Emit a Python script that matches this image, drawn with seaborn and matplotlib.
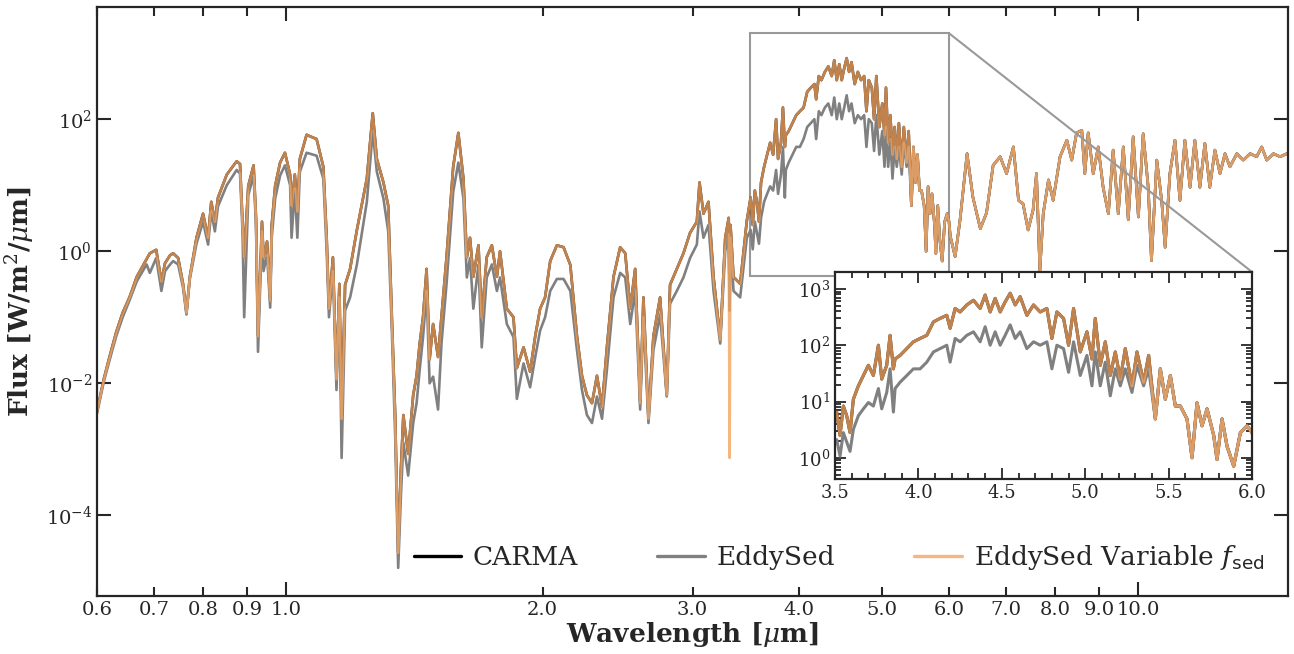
import numpy as np
import matplotlib
matplotlib.use("Agg")
import matplotlib.pyplot as plt
import seaborn as sns
from matplotlib.ticker import LogLocator, FormatStrFormatter, NullLocator, MultipleLocator
from mpl_toolkits.axes_grid1.inset_locator import mark_inset

# ================= data =================
# 0.6 - 6.0 um : the models differ here
wave_nir = [
    0.600, 0.611, 0.621, 0.632, 0.643, 0.655, 0.668, 0.686, 0.692, 0.704,
    0.714, 0.721, 0.731, 0.737, 0.747, 0.757, 0.764, 0.771, 0.785, 0.799,
    0.810, 0.817, 0.825, 0.832, 0.852, 0.875, 0.883, 0.889, 0.893, 0.903,
    0.916, 0.922, 0.927, 0.937, 0.941, 0.950, 0.958, 0.962, 0.971, 0.984,
    0.997, 1.011, 1.015, 1.024, 1.031, 1.038, 1.057, 1.086, 1.106, 1.116,
    1.123, 1.135, 1.146, 1.155, 1.162, 1.173, 1.189, 1.211, 1.244, 1.264,
    1.278, 1.301, 1.318, 1.331, 1.343, 1.354, 1.364, 1.373, 1.391, 1.410,
    1.423, 1.435, 1.448, 1.462, 1.474, 1.488, 1.508, 1.522, 1.543, 1.571,
    1.593, 1.615, 1.630, 1.644, 1.659, 1.682, 1.697, 1.720, 1.744, 1.768,
    1.783, 1.816, 1.849, 1.866, 1.900, 1.934, 1.961, 1.987, 2.014, 2.042,
    2.079, 2.117, 2.156, 2.195, 2.225, 2.255, 2.286, 2.317, 2.349, 2.380,
    2.423, 2.467, 2.501, 2.535, 2.569, 2.604, 2.627, 2.663, 2.699, 2.748,
    2.798, 2.823, 2.875, 2.927, 2.980, 3.035, 3.057, 3.090, 3.132, 3.175,
    3.233, 3.277, 3.308, 3.316, 3.324, 3.351, 3.412, 3.474,
    3.51, 3.53, 3.55, 3.57, 3.59, 3.61, 3.64, 3.67, 3.70, 3.73,
    3.76, 3.78, 3.81, 3.83, 3.85, 3.86, 3.89, 3.93, 3.97, 4.01,
    4.05, 4.09, 4.13, 4.17, 4.19, 4.22, 4.25, 4.29, 4.33, 4.37,
    4.40, 4.43, 4.46, 4.49, 4.52, 4.55, 4.58, 4.61, 4.65, 4.69,
    4.73, 4.77, 4.80, 4.83, 4.87, 4.90, 4.93, 4.97, 5.01, 5.04,
    5.06, 5.09, 5.12, 5.15, 5.18, 5.21, 5.24, 5.28, 5.31, 5.35,
    5.38, 5.42, 5.45, 5.48, 5.51, 5.54, 5.57, 5.61, 5.64, 5.67,
    5.70, 5.73, 5.77, 5.79, 5.82, 5.85, 5.89, 5.93, 5.97, 6.00,
]
carma_nir = [
    3.8e-3, 0.0115, 0.026, 0.060, 0.117, 0.20, 0.41, 0.76, 0.93, 1.05,
    0.35, 0.66, 0.87, 0.93, 0.79, 0.32, 0.117, 0.41, 1.6, 3.7,
    1.6, 5.6, 2.8, 6.5, 14.5, 23, 21, 2.8, 0.81, 9.8,
    20, 3.2, 0.052, 2.8, 0.81, 1.4, 0.18, 2.5, 9.8, 22,
    31, 14.5, 4.9, 14.5, 4.0, 25, 58, 50, 19, 1.6,
    0.135, 0.81, 0.0115, 0.32, 2.9e-3, 0.31, 0.54, 2.1, 12.6, 123,
    25, 11, 4.9, 0.10, 3.3e-3, 2.7e-5, 5.0e-4, 3.3e-3, 8.5e-4, 6.6e-3,
    0.013, 0.040, 0.10, 0.54, 0.023, 0.079, 0.025, 0.10, 0.81, 19,
    62, 12.6, 0.81, 1.6, 0.41, 1.23, 0.10, 0.81, 1.23, 0.41,
    1.0, 0.135, 0.10, 0.017, 0.035, 0.015, 0.052, 0.135, 0.20, 0.71,
    1.23, 1.15, 0.62, 0.052, 0.013, 6.6e-3, 5.0e-3, 0.013, 4.4e-3, 0.035,
    0.41, 1.15, 0.93, 0.135, 0.54, 5.0e-3, 0.20, 2.9e-3, 0.052, 0.20,
    6.6e-3, 0.31, 0.54, 0.93, 1.9, 2.8, 11, 3.7, 5.6, 0.41,
    0.046, 1.6, 3.2, 0.16, 2.5, 0.41, 0.32, 2.9,
    6.5, 2.5, 8.3, 5.6, 2.8, 11, 19, 29, 44, 29,
    100, 25, 44, 150, 38, 57, 66, 87, 115, 132,
    150, 260, 300, 340, 200, 450, 390, 520, 630, 450,
    780, 390, 680, 390, 590, 840, 520, 730, 340, 520,
    390, 450, 132, 390, 300, 100, 450, 76, 173, 57,
    300, 44, 115, 29, 76, 25, 87, 19, 76, 22,
    66, 4.9, 38, 11, 29, 8.3, 8.3, 4.9, 1.0, 9.5,
    3.7, 7.4, 2.5, 0.93, 4.9, 1.6, 0.71, 2.8, 3.7, 2.8,
]
eddysed_nir = [
    3.5e-3, 0.0105, 0.023, 0.052, 0.10, 0.18, 0.35, 0.63, 0.47, 0.79,
    0.25, 0.50, 0.63, 0.71, 0.63, 0.28, 0.11, 0.38, 1.3, 2.8,
    1.26, 4.0, 2.0, 4.8, 10, 17, 15, 2.0, 0.10, 7.1,
    14, 2.5, 0.030, 2.0, 0.50, 0.89, 0.14, 1.6, 6.3, 14,
    20, 10, 1.6, 8.9, 1.6, 16, 31, 28, 12.6, 1.0,
    0.10, 0.50, 7.9e-3, 0.20, 7.4e-4, 0.126, 0.20, 0.63, 5.6, 66,
    16, 6.3, 2.0, 0.063, 1.6e-3, 1.6e-5, 2.0e-4, 1.26e-3, 4.0e-4, 2.5e-3,
    5.0e-3, 0.016, 0.05, 0.25, 0.01, 0.0126, 4.0e-3, 0.04, 0.32, 7.9,
    22, 6.3, 0.40, 0.79, 0.135, 0.63, 0.035, 0.40, 0.63, 0.25,
    0.40, 0.079, 0.05, 5.8e-3, 0.02, 8.7e-3, 0.025, 0.063, 0.10, 0.25,
    0.38, 0.38, 0.25, 0.032, 7.9e-3, 3.3e-3, 2.5e-3, 6.3e-3, 2.9e-3, 0.016,
    0.20, 0.47, 0.40, 0.079, 0.25, 4.0e-3, 0.10, 2.5e-3, 0.032, 0.11,
    6.3e-3, 0.16, 0.25, 0.40, 0.79, 1.26, 4.0, 1.6, 2.5, 0.25,
    0.04, 1.0, 1.8, 0.126, 1.6, 0.25, 0.20, 1.6,
    2.1, 1.07, 2.8, 1.9, 1.3, 3.2, 5.6, 7.4, 9.6, 8.3,
    17, 7.4, 14.5, 38, 6.5, 17, 22, 29, 38, 38,
    50, 76, 87, 100, 50, 132, 115, 150, 173, 115,
    213, 100, 173, 100, 150, 230, 132, 173, 87, 115,
    100, 115, 38, 100, 87, 33, 115, 29, 66, 19,
    76, 19, 50, 12.6, 38, 19, 38, 14.5, 44, 19,
    38, 4.9, 38, 11, 29, 8.3, 8.3, 4.9, 1.0, 9.5,
    3.7, 7.4, 2.5, 0.93, 4.9, 1.6, 0.71, 2.8, 3.7, 2.8,
]
# 6 - 15 um : all three models lie on top of each other
wave_mir = [
    6.02, 6.10, 6.18, 6.30, 6.40, 6.53, 6.64, 6.76, 6.89, 7.01,
    7.14, 7.24, 7.33, 7.43, 7.53, 7.60, 7.67, 7.74, 7.85, 7.95,
    8.10, 8.25, 8.36, 8.47, 8.59, 8.66, 8.74, 8.86, 8.98, 9.10,
    9.23, 9.35, 9.48, 9.61, 9.74, 9.87, 10.01, 10.14, 10.28, 10.37,
    10.52, 10.66, 10.76, 10.90, 11.05, 11.20, 11.35, 11.51, 11.66, 11.82,
    11.98, 12.14, 12.31, 12.48, 12.65, 12.82, 13.06, 13.29, 13.54, 13.78,
    13.97, 14.16, 14.42, 14.68, 14.95,
]
flux_mir = [
    1.7, 0.83, 2.9, 30, 6.6, 2.2, 3.8, 20, 27, 15,
    38, 5.9, 5.2, 2.1, 4.2, 15, 0.51, 3.7, 12, 5.9,
    27, 48, 24, 62, 68, 15, 62, 15, 38, 9.3,
    3.7, 34, 3.7, 38, 3.0, 54, 3.3, 60, 9.3, 0.72,
    24, 5.9, 1.15, 15, 48, 5.9, 48, 9.3, 48, 9.3,
    43, 9.3, 34, 15, 30, 19, 30, 24, 30, 27,
    38, 24, 30, 27, 30,
]

wave = wave_nir + wave_mir
carma_flux = carma_nir + flux_mir
eddysed_flux = eddysed_nir + flux_mir
# the variable-fsed run follows CARMA except for one narrow feature at 3.3 um
fsed_flux = list(carma_flux)
fsed_flux[wave.index(3.316)] = 7.4e-4

labels = ['CARMA', 'EddySed', r'EddySed Variable $f_{\mathsf{sed}}$']
colors = ['black', 'gray', 'sandybrown']

# ================= style =================
sns.set_style("ticks")
plt.rcParams['font.family'] = ['DejaVu Serif']
plt.rcParams['mathtext.fontset'] = 'dejavuserif'

fig = plt.figure(figsize=(12.94, 6.54), dpi=100)
ax = fig.add_axes([0.075, 0.0887, 0.9204, 0.9006])

series = [carma_flux, eddysed_flux, fsed_flux]
alphas = [1.0, 1.0, 0.8]
for flux, c, lab, a in zip(series, colors, labels, alphas):
    sns.lineplot(x=wave, y=flux, ax=ax, color=c, lw=1.9, alpha=a, label=lab,
                 estimator=None, sort=False)

ax.set_xscale('log')
ax.set_yscale('log')
ax.set_xlim(0.6, 15.0)
ax.set_ylim(6e-6, 5e3)

ax.xaxis.set_major_locator(LogLocator(base=10))
ax.xaxis.set_minor_locator(LogLocator(base=10, subs=np.arange(2, 10)))
ax.xaxis.set_major_formatter(FormatStrFormatter('%.1f'))
ax.xaxis.set_minor_formatter(FormatStrFormatter('%.1f'))
ax.set_yticks([1e-4, 1e-2, 1, 1e2])
ax.yaxis.set_minor_locator(NullLocator())

ax.tick_params(which='both', direction='in', top=True, right=True, width=1.5, labelsize=14)
ax.tick_params(which='major', length=10)
ax.tick_params(which='minor', length=6.5)
for sp in ax.spines.values():
    sp.set_linewidth(1.6)

ax.set_xlabel(r'Wavelength [$\mu$m]', fontsize=19, fontweight='bold', labelpad=1)
ax.set_ylabel(r'Flux [W/m$^2$/$\mu$m]', fontsize=19, fontweight='bold', labelpad=6)

leg = ax.legend(loc='lower right', ncol=3, frameon=False, fontsize=19,
                handlelength=1.8, handletextpad=0.45, columnspacing=3.0,
                borderaxespad=0.5)
for h in leg.get_lines():
    h.set_linewidth(2.4)

# ================= inset 3.5 - 6 um =================
axins = fig.add_axes([0.6453, 0.2676, 0.3223, 0.3165])
for flux, c, a in zip(series, colors, alphas):
    sns.lineplot(x=wave, y=flux, ax=axins, color=c, lw=2.2, alpha=a,
                 estimator=None, sort=False, legend=False)
axins.set_yscale('log')
axins.set_xlim(3.5, 6.0)
axins.set_ylim(0.42, 2000)
axins.xaxis.set_major_locator(MultipleLocator(0.5))
axins.xaxis.set_minor_locator(MultipleLocator(0.1))
axins.xaxis.set_major_formatter(FormatStrFormatter('%.1f'))
axins.yaxis.set_major_locator(LogLocator(base=10))
axins.yaxis.set_minor_locator(LogLocator(base=10, subs=np.arange(2, 10)))
axins.tick_params(which='both', direction='in', top=True, right=True, width=1.3, labelsize=13)
axins.tick_params(which='major', length=8)
axins.tick_params(which='minor', length=4)
axins.set_xlabel('')
axins.set_ylabel('')
for sp in axins.spines.values():
    sp.set_linewidth(1.6)

box, con1, con2 = mark_inset(ax, axins, loc1=1, loc2=4, fc='none', ec='0.6', lw=1.5)
con2.set_visible(False)  # hidden behind the inset in the reference

fig.savefig('out.png', dpi=100)
